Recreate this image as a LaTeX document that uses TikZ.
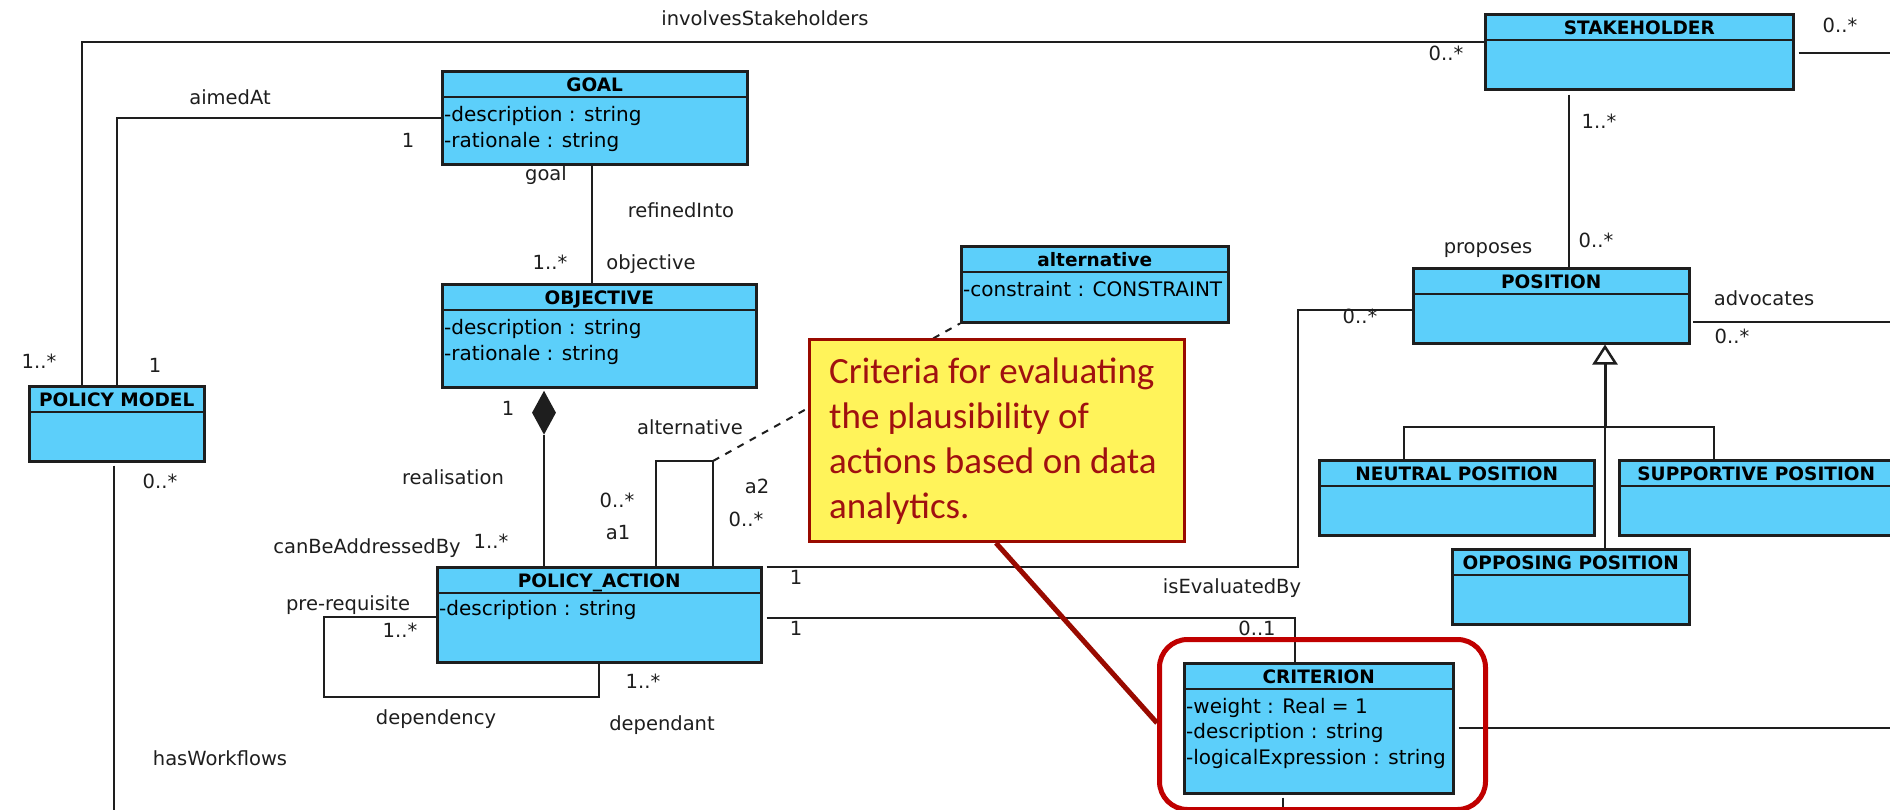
\documentclass[tikz,border=0pt]{standalone}
\usepackage{fontspec}
\setmainfont{DejaVu Sans}
\newfontfamily\notefont{Carlito}
\usetikzlibrary{arrows.meta,shapes.geometric,calc}
\definecolor{clsblue}{RGB}{92,207,250}
\definecolor{noteyellow}{RGB}{255,243,90}
\definecolor{notered}{RGB}{153,10,0}
\definecolor{notetext}{RGB}{160,16,16}
\definecolor{hlred}{RGB}{192,0,0}
\definecolor{lnblack}{RGB}{30,30,30}
\tikzset{
  clsbox/.style={draw=lnblack, fill=clsblue, line width=2.5pt, inner sep=0pt, anchor=north west},
  clsdiv/.style={draw=lnblack, line width=2pt},
  clstitle/.style={font=\fontsize{18.5}{22}\selectfont\bfseries, anchor=base, inner sep=0pt},
  clsattr/.style={font=\fontsize{20}{24}\selectfont, anchor=base west, inner sep=0pt},
  conn/.style={draw=lnblack, line width=2pt},
  lbl/.style={font=\fontsize{19.5}{23}\selectfont, anchor=base, inner sep=0pt, text=lnblack},
  notebox/.style={fill=noteyellow, draw=notered, line width=3pt, inner sep=0pt, anchor=north west},
  notetxt/.style={font=\notefont\fontsize{37}{45}\selectfont, text=notetext, anchor=base west, inner sep=0pt},
  hlbox/.style={draw=hlred, line width=5pt, rounded corners=28pt, inner sep=0pt, anchor=north west}
}
\newcommand\umlbox[6]{%
  \node[clsbox, minimum width=#4pt, minimum height=#5pt] (#1) at (#2,#3) {};
  \draw[clsdiv] ([yshift=-27pt]#1.north west) -- ([yshift=-27pt]#1.north east);
  \node[clstitle] (#1-title) at ([yshift=-21pt]#1.north) {#6};
}
\newcommand\umlattr[4]{%
  \node[clsattr] (#1-#2) at ([xshift=3pt,yshift=-#3pt]#1.north west) {#4};
}
\newcommand\umllbl[4]{\node[lbl] (#1) at (#2,#3) {#4};}
\begin{document}
\begin{tikzpicture}[x=1pt,y=-1pt]
\useasboundingbox (0,0) rectangle (1890,809);
\fill[white] (0,0) rectangle (1890,809);

% ---- classes
\umlbox{stake}{1484}{13}{308}{75}{STAKEHOLDER}
\umlbox{goal}{441}{70}{305}{93}{GOAL}
\umlattr{goal}{a1}{51}{-description : string}
\umlattr{goal}{a2}{77}{-rationale : string}
\umlbox{obj}{441}{283}{314}{103}{OBJECTIVE}
\umlattr{obj}{a1}{51}{-description : string}
\umlattr{obj}{a2}{77}{-rationale : string}
\umlbox{pm}{28}{385}{175}{75}{POLICY MODEL}
\umlbox{alt}{960}{245}{267}{76}{alternative}
\umlattr{alt}{a1}{51}{-constraint : CONSTRAINT}
\umlbox{pos}{1412}{267}{276}{75}{POSITION}
\umlbox{neu}{1318}{459}{275}{75}{NEUTRAL POSITION}
\umlbox{sup}{1618}{459}{274}{75}{SUPPORTIVE POSITION}
\umlbox{opp}{1451}{548}{237}{75}{OPPOSING POSITION}
\umlbox{pa}{436}{566}{324}{95}{POLICY\_ACTION}
\umlattr{pa}{a1}{49}{-description : string}
\umlbox{crit}{1183}{662}{269}{130}{CRITERION}
\umlattr{crit}{a1}{51}{-weight : Real = 1}
\umlattr{crit}{a2}{76.5}{-description : string}
\umlattr{crit}{a3}{102}{-logicalExpression : string}

% ---- connectors
\draw[conn] ([xshift=54pt]pm.north west) |- ([yshift=-29pt]stake.north west);
\draw[conn] ([xshift=89pt]pm.north west) |- ([yshift=-48pt]goal.north west);
\draw[conn] ([xshift=151pt]goal.south west) -- ([xshift=151pt]obj.north west);
\node[diamond, fill=lnblack, draw=none, minimum width=24pt, minimum height=44pt, inner sep=0pt, anchor=north] (dia) at ([xshift=103pt,yshift=-2pt]obj.south west) {};
\draw[conn] (dia.south) -- ([xshift=108pt]pa.north west);

\coordinate (altc) at ([xshift=277pt,yshift=105pt]pa.north west);
\draw[conn] ([xshift=220pt]pa.north west) |- (altc) -- ([xshift=277pt]pa.north west);
\draw[conn, dash pattern=on 7pt off 7pt] (altc) -- (alt.south west);

\coordinate (prc) at ([xshift=-112pt,yshift=-131pt]pa.north west);
\draw[conn] ([yshift=-51pt]pa.north west) -| (prc) -| ([xshift=163pt]pa.south west);

\coordinate (ppc) at ([xshift=-114pt,yshift=-43pt]pos.north west);
\draw[conn] ([xshift=4pt,yshift=-1pt]pa.north east) -| (ppc) -- ([yshift=-43pt]pos.north west);

\draw[conn] ([xshift=4pt,yshift=-52pt]pa.north east) -| ([xshift=112pt]crit.north west);

\draw[conn] ([xshift=86pt,yshift=-3pt]pm.south west) -- ++(0,360);

\draw[conn] ([xshift=85pt,yshift=-4pt]stake.south west) -- ([xshift=157pt]pos.north west);

\coordinate (adc) at ([xshift=96pt,yshift=-40pt]stake.north east);
\draw[conn] ([xshift=4pt,yshift=-40pt]stake.north east) -- (adc) |- ([xshift=2pt,yshift=-55pt]pos.north east);

\coordinate (gj) at ([xshift=193pt,yshift=-82pt]pos.south west);
\draw[conn] ([xshift=86pt]neu.north west) |- (gj) -| ([xshift=96pt]sup.north west);
\draw[conn] (gj) -- ([xshift=154pt]opp.north west);
\draw[conn, line width=3pt, -{Triangle[open, length=20pt, width=25pt, line width=2.5pt]}] (gj) -- ([xshift=193pt]pos.south west);

\draw[conn] ([xshift=4pt,yshift=-66pt]crit.north east) -- ++(450,0);
\draw[conn] ([xshift=100pt,yshift=-3pt]crit.south west) -- ++(0,30);

% ---- labels
\umllbl{l1}{765}{25}{involvesStakeholders}
\umllbl{l2}{230}{104}{aimedAt}
\umllbl{l3}{408}{147}{1}
\umllbl{l4}{546}{180}{goal}
\umllbl{l5}{681}{217}{refinedInto}
\umllbl{l6}{550}{269}{1..*}
\umllbl{l7}{651}{269}{objective}
\umllbl{l8}{39}{368}{1..*}
\umllbl{l9}{155}{372}{1}
\umllbl{l10}{508}{415}{1}
\umllbl{l11}{453}{484}{realisation}
\umllbl{l12}{367}{553}{canBeAddressedBy}
\umllbl{l13}{491}{548}{1..*}
\umllbl{l14}{690}{434}{alternative}
\umllbl{l15}{617}{507}{0..*}
\umllbl{l16}{618}{539}{a1}
\umllbl{l17}{757}{493}{a2}
\umllbl{l18}{746}{526}{0..*}
\umllbl{l19}{348}{610}{pre-requisite}
\umllbl{l20}{400}{637}{1..*}
\umllbl{l21}{436}{724}{dependency}
\umllbl{l22}{643}{688}{1..*}
\umllbl{l23}{662}{730}{dependant}
\umllbl{l24}{160}{488}{0..*}
\umllbl{l25}{220}{765}{hasWorkflows}
\umllbl{l26}{796}{584}{1}
\umllbl{l27}{796}{635}{1}
\umllbl{l28}{1232}{593}{isEvaluatedBy}
\umllbl{l29}{1257}{635}{0..1}
\umllbl{l30}{1360}{323}{0..*}
\umllbl{l31}{1446}{60}{0..*}
\umllbl{l32}{1840}{32}{0..*}
\umllbl{l33}{1599}{128}{1..*}
\umllbl{l34}{1596}{247}{0..*}
\umllbl{l35}{1488}{253}{proposes}
\umllbl{l36}{1764}{305}{advocates}
\umllbl{l37}{1732}{343}{0..*}

% ---- note and highlight
\node[notebox, minimum width=375pt, minimum height=202pt] (note) at (808,338) {};
\node[notetxt] (n1) at (829,383) {Criteria for evaluating};
\node[notetxt] (n2) at (829,428) {the plausibility of};
\node[notetxt] (n3) at (829,473) {actions based on data};
\node[notetxt] (n4) at (829,518) {analytics.};
\node[hlbox, minimum width=326pt, minimum height=170pt] (hl) at (1157,637) {};
\draw[draw=notered, line width=5pt] ([xshift=188pt]note.south west) -- ([yshift=-86pt]hl.north west);
\end{tikzpicture}
\end{document}
